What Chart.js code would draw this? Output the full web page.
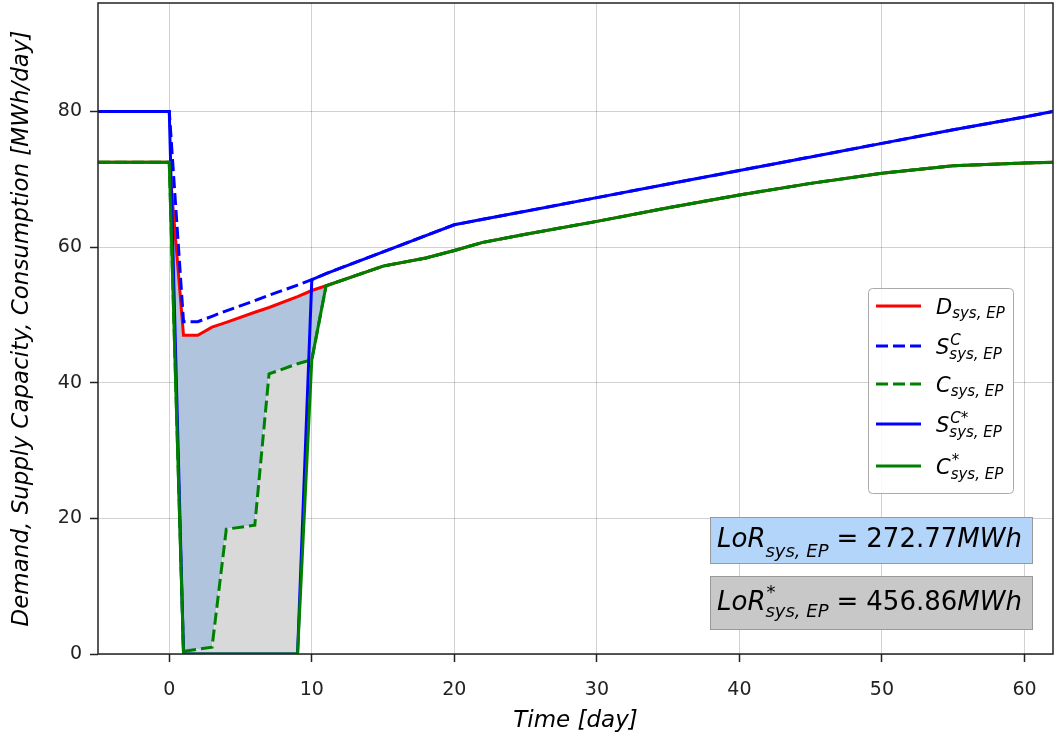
<!DOCTYPE html>
<html>
<head>
<meta charset="utf-8">
<script src="https://cdn.jsdelivr.net/npm/chart.js@4.4.1/dist/chart.umd.min.js"></script>
<style>
  html, body { margin: 0; padding: 0; background: #fff; }
  #wrap { width: 1055px; height: 740px; position: relative; }
</style>
</head>
<body>
<div id="wrap"><canvas id="chart" width="1055" height="740"></canvas></div>
<script>
const days = [-5, 0, 1, 2, 3, 4, 6, 7, 9, 10, 11, 15, 18, 20, 22, 25, 30, 35, 40, 45, 50, 55, 60, 62]

const demand     = [72.5, 72.5, 47.0, 47.0, 48.2, 48.9, 50.4, 51.1, 52.7, 53.6, 54.3, 57.2, 58.4, 59.5, 60.7, 61.9, 63.8, 65.8, 67.7, 69.4, 70.9, 72.0, 72.4, 72.5]
const supplyC    = [80, 80, 49.0, 49.0, 49.8, 50.6, 52.1, 52.9, 54.4, 55.2, 56.1, 59.3, 61.7, 63.3, 64.1, 65.3, 67.3, 69.3, 71.3, 73.3, 75.3, 77.3, 79.2, 80]
const consC      = [72.5, 72.5, 0.4, 0.7, 1.0, 18.4, 19.0, 41.3, 42.8, 43.4, 54.3, 57.2, 58.4, 59.5, 60.7, 61.9, 63.8, 65.8, 67.7, 69.4, 70.9, 72.0, 72.4, 72.5]
const supplyStar = [80, 80, 0, 0, 0, 0, 0, 0, 0, 55.2, 56.1, 59.3, 61.7, 63.3, 64.1, 65.3, 67.3, 69.3, 71.3, 73.3, 75.3, 77.3, 79.2, 80]
const consStar   = [72.5, 72.5, 0, 0, 0, 0, 0, 0, 0, 43.4, 54.3, 57.2, 58.4, 59.5, 60.7, 61.9, 63.8, 65.8, 67.7, 69.4, 70.9, 72.0, 72.4, 72.5]

const xTicks = [0, 10, 20, 30, 40, 50, 60]
const yTicks = [0, 20, 40, 60, 80]

const lorText  = '272.77'
const lorStarText = '456.86'

const FONT = '"DejaVu Sans", "Liberation Sans", sans-serif'
const DASH = [12, 5]

const pts = vals => days.map((d, i) => ({ x: d, y: vals[i] }))

// legend entries: base letter, superscript, subscript, colour, dashed
const LEGEND = [
  { base: 'D', sup: '',   sub: 'sys, EP', color: '#ff0000', dash: false },
  { base: 'S', sup: 'C',  sub: 'sys, EP', color: '#0000ff', dash: true },
  { base: 'C', sup: '',   sub: 'sys, EP', color: '#008000', dash: true },
  { base: 'S', sup: 'C*', sub: 'sys, EP', color: '#0000ff', dash: false },
  { base: 'C', sup: '*',  sub: 'sys, EP', color: '#008000', dash: false }
]

function drawSym(ctx, x, y, base, sup, sub, size, subDrop) {
  ctx.font = 'italic ' + size + 'px ' + FONT
  ctx.fillText(base, x, y)
  const w = ctx.measureText(base).width
  const s2 = Math.round(size * 0.7)
  ctx.font = 'italic ' + s2 + 'px ' + FONT
  let w2 = 0
  if (sup) { ctx.fillText(sup, x + w + 1, y - size * 0.45); w2 = ctx.measureText(sup).width + 1 }
  if (sub) { ctx.fillText(sub, x + w, y + size * subDrop); w2 = Math.max(w2, ctx.measureText(sub).width) }
  return x + w + w2
}

const frameAndLegend = {
  id: 'frameAndLegend',
  afterDatasetsDraw(chart) {
    const ctx = chart.ctx
    const a = chart.chartArea
    ctx.save()
    ctx.strokeStyle = '#222'
    ctx.lineWidth = 1.5
    ctx.strokeRect(a.left, a.top, a.right - a.left, a.bottom - a.top)
    ctx.restore()
  },
  afterDraw(chart) {
    const ctx = chart.ctx
    ctx.save()
    // legend box
    ctx.fillStyle = 'rgba(255,255,255,0.85)'
    ctx.strokeStyle = '#aaa'
    ctx.lineWidth = 1
    ctx.beginPath()
    ctx.roundRect(868.5, 288.5, 145, 205, 4)
    ctx.fill()
    ctx.stroke()
    const rows = [306, 346, 384, 424, 466]
    LEGEND.forEach((e, i) => {
      const y = rows[i]
      ctx.strokeStyle = e.color
      ctx.lineWidth = 3
      ctx.setLineDash(e.dash ? DASH : [])
      ctx.beginPath()
      ctx.moveTo(876, y)
      ctx.lineTo(921, y)
      ctx.stroke()
      ctx.setLineDash([])
      ctx.fillStyle = '#000'
      ctx.textBaseline = 'alphabetic'
      drawSym(ctx, 936, y + 8, e.base, e.sup, e.sub, 21, e.sup ? 0.25 : 0.18)
    })

    // LoR annotation boxes
    const boxes = [
      { y: 517.5, h: 46, fill: '#b3d5f9', sup: '',  val: lorText,     base: 547 },
      { y: 576.5, h: 53, fill: '#c8c8c8', sup: '*', val: lorStarText, base: 610 }
    ]
    boxes.forEach(b => {
      ctx.fillStyle = b.fill
      ctx.strokeStyle = '#999'
      ctx.lineWidth = 1
      ctx.fillRect(710.5, b.y, 322, b.h)
      ctx.strokeRect(710.5, b.y, 322, b.h)
      ctx.fillStyle = '#000'
      let x = drawSym(ctx, 717, b.base, 'LoR', b.sup, 'sys, EP', 26, b.sup ? 0.27 : 0.4)
      ctx.font = '26px ' + FONT
      x += 8
      ctx.fillText('=', x, b.base)
      x += ctx.measureText('=').width + 8
      ctx.fillText(b.val, x, b.base)
      x += ctx.measureText(b.val).width
      ctx.font = 'italic 26px ' + FONT
      ctx.fillText('MWh', x, b.base)
    })
    ctx.restore()
  }
}

const line = (vals, color, dash, order, fill) => ({
  data: pts(vals),
  borderColor: color,
  borderWidth: 3,
  borderDash: dash ? DASH : [],
  pointRadius: 0,
  tension: 0,
  order: order,
  fill: fill || false
})

const noEdgePad = s => { s.paddingTop = 0; s.paddingBottom = 0; s.paddingLeft = 0; s.paddingRight = 0 }

new Chart(document.getElementById('chart'), {
  type: 'line',
  data: {
    datasets: [
      line(demand, '#ff0000', false, 5, { target: 2, above: '#b0c4de', below: 'rgba(0,0,0,0)' }),
      line(supplyC, '#0000ff', true, 4),
      line(consC, '#008000', true, 3, { target: 4, above: '#d9d9d9', below: 'rgba(0,0,0,0)' }),
      line(supplyStar, '#0000ff', false, 2),
      line(consStar, '#008000', false, 1)
    ]
  },
  options: {
    responsive: false,
    animation: false,
    layout: { padding: { top: 3, right: 2, left: 0, bottom: 0 } },
    plugins: { legend: { display: false }, tooltip: { enabled: false } },
    scales: {
      x: {
        type: 'linear',
        min: -5,
        max: 62,
        afterBuildTicks: s => { s.ticks = xTicks.map(v => ({ value: v })) },
        afterFit: s => { s.height = 86; noEdgePad(s) },
        grid: { color: 'rgba(0,0,0,0.18)', tickColor: '#222', tickLength: 8, tickWidth: 1.5 },
        border: { display: false },
        ticks: { color: '#222', font: { family: FONT, size: 19 }, padding: 17, maxRotation: 0 },
        title: { display: true, text: 'Time [day]', color: '#000', font: { family: FONT, size: 23, style: 'italic' }, padding: { top: 0, bottom: 5 } }
      },
      y: {
        min: 0,
        max: 96,
        afterBuildTicks: s => { s.ticks = yTicks.map(v => ({ value: v })) },
        afterFit: s => { s.width = 98; noEdgePad(s) },
        grid: { color: 'rgba(0,0,0,0.18)', tickColor: '#222', tickLength: 8, tickWidth: 1.5 },
        border: { display: false },
        ticks: { color: '#222', font: { family: FONT, size: 19 }, padding: 8 },
        title: { display: true, text: 'Demand, Supply Capacity, Consumption [MWh/day]', color: '#000', font: { family: FONT, size: 23, style: 'italic' }, padding: { top: 8, bottom: 4 } }
      }
    }
  },
  plugins: [frameAndLegend]
})
</script>
</body>
</html>
